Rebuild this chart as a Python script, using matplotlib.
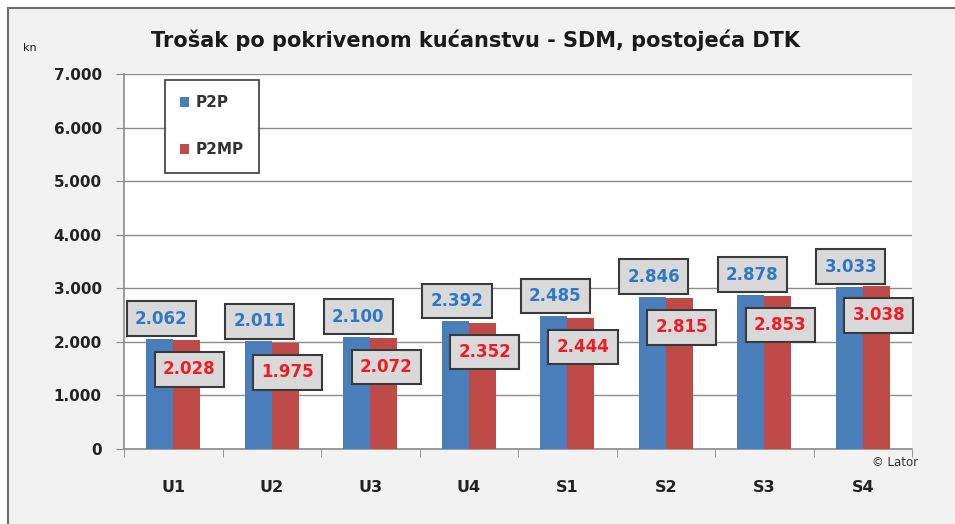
import numpy as np
import matplotlib.pyplot as plt
from matplotlib.patches import Rectangle

#%% Data
categories = ['U1', 'U2', 'U3', 'U4', 'S1', 'S2', 'S3', 'S4']
p2p  = [2062, 2011, 2100, 2392, 2485, 2846, 2878, 3033]
p2mp = [2028, 1975, 2072, 2352, 2444, 2815, 2853, 3038]

def fmt(v):
    return f'{v:,}'.replace(',', '.')

#%% Figure
W, H = 955, 524
fig = plt.figure(figsize=(W / 100, H / 100), dpi=100)
fig.patch.set_facecolor('white')

# outer frame (cropped on the right / bottom)
fig.patches.append(Rectangle((8 / W, -0.05), 1.1, (H - 8) / H + 0.05, transform=fig.transFigure,
                             facecolor='#f2f2f2', edgecolor='#6e6e6e', lw=1.5, zorder=-10))

ax = fig.add_axes([124 / W, 75 / H, (912 - 124) / W, (449 - 74) / H])
ax.set_facecolor('white')

x = np.arange(len(categories))
bw = 0.275
ax.bar(x - bw / 2, p2p, bw, color='#4a7ebb', label='P2P', zorder=3)
ax.bar(x + bw / 2, p2mp, bw, color='#be4b48', label='P2MP', zorder=3)

ax.set_xlim(-0.5, len(categories) - 0.5)
ax.set_ylim(0, 7000)
ax.set_yticks(np.arange(0, 7001, 1000))
ax.set_yticklabels([fmt(v) for v in range(0, 7001, 1000)], fontsize=11, fontweight='bold', color='#222222')
ax.set_xticks(x)
ax.set_xticklabels(categories, fontsize=11.5, fontweight='bold', color='#222222')
ax.set_xticks(np.arange(-0.5, len(categories)), minor=True)
ax.tick_params(axis='x', which='major', length=0, pad=22)
ax.tick_params(axis='x', which='minor', length=6, color='#888888', direction='out')
ax.tick_params(axis='y', length=6, color='#888888', pad=10)
ax.grid(axis='y', color='#8c8c8c', lw=1, zorder=0)
for s in ['top', 'right']:
    ax.spines[s].set_visible(False)
for s in ['left', 'bottom']:
    ax.spines[s].set_color('#8c8c8c')
    ax.spines[s].set_linewidth(1.2)

# value labels
box = dict(boxstyle='square,pad=0.5', facecolor='#d9d9d9', edgecolor='#3a3a3a', lw=1.5)
for i in range(len(categories)):
    ax.annotate(fmt(p2p[i]), (x[i], p2p[i]), xytext=(-12, 20), textcoords='offset pixels',
                ha='center', va='center', fontsize=12, fontweight='bold', color='#2f78c4',
                bbox=box, zorder=5)
    ax.annotate(fmt(p2mp[i]), (x[i], p2mp[i]), xytext=(16, -29), textcoords='offset pixels',
                ha='center', va='center', fontsize=12, fontweight='bold', color='#ee1c25',
                bbox=box, zorder=5)

leg = ax.legend(loc='upper left', bbox_to_anchor=(165 / W, 1 - 80 / H), bbox_transform=fig.transFigure,
                borderaxespad=0, frameon=True, fancybox=False, edgecolor='#3a3a3a', framealpha=1,
                prop={'size': 11, 'weight': 'bold'}, handlelength=0.6, handleheight=0.6,
                handletextpad=0.4, labelspacing=2.1, borderpad=1.0)
leg.get_frame().set_linewidth(1.2)
for t in leg.get_texts():
    t.set_color('#333333')

fig.text(475 / W, 1 - 40 / H, 'Trošak po pokrivenom kućanstvu - SDM, postojeća DTK',
         ha='center', va='center', fontsize=15, fontweight='bold', color='#1a1a1a')
fig.text(30 / W, 1 - 48 / H, 'kn', ha='center', va='center', fontsize=8, color='#1a1a1a')
fig.text(895 / W, 1 - 462 / H, '© Lator', ha='center', va='center', fontsize=8.5, color='#333333')

fig.savefig('out.png', dpi=100)
